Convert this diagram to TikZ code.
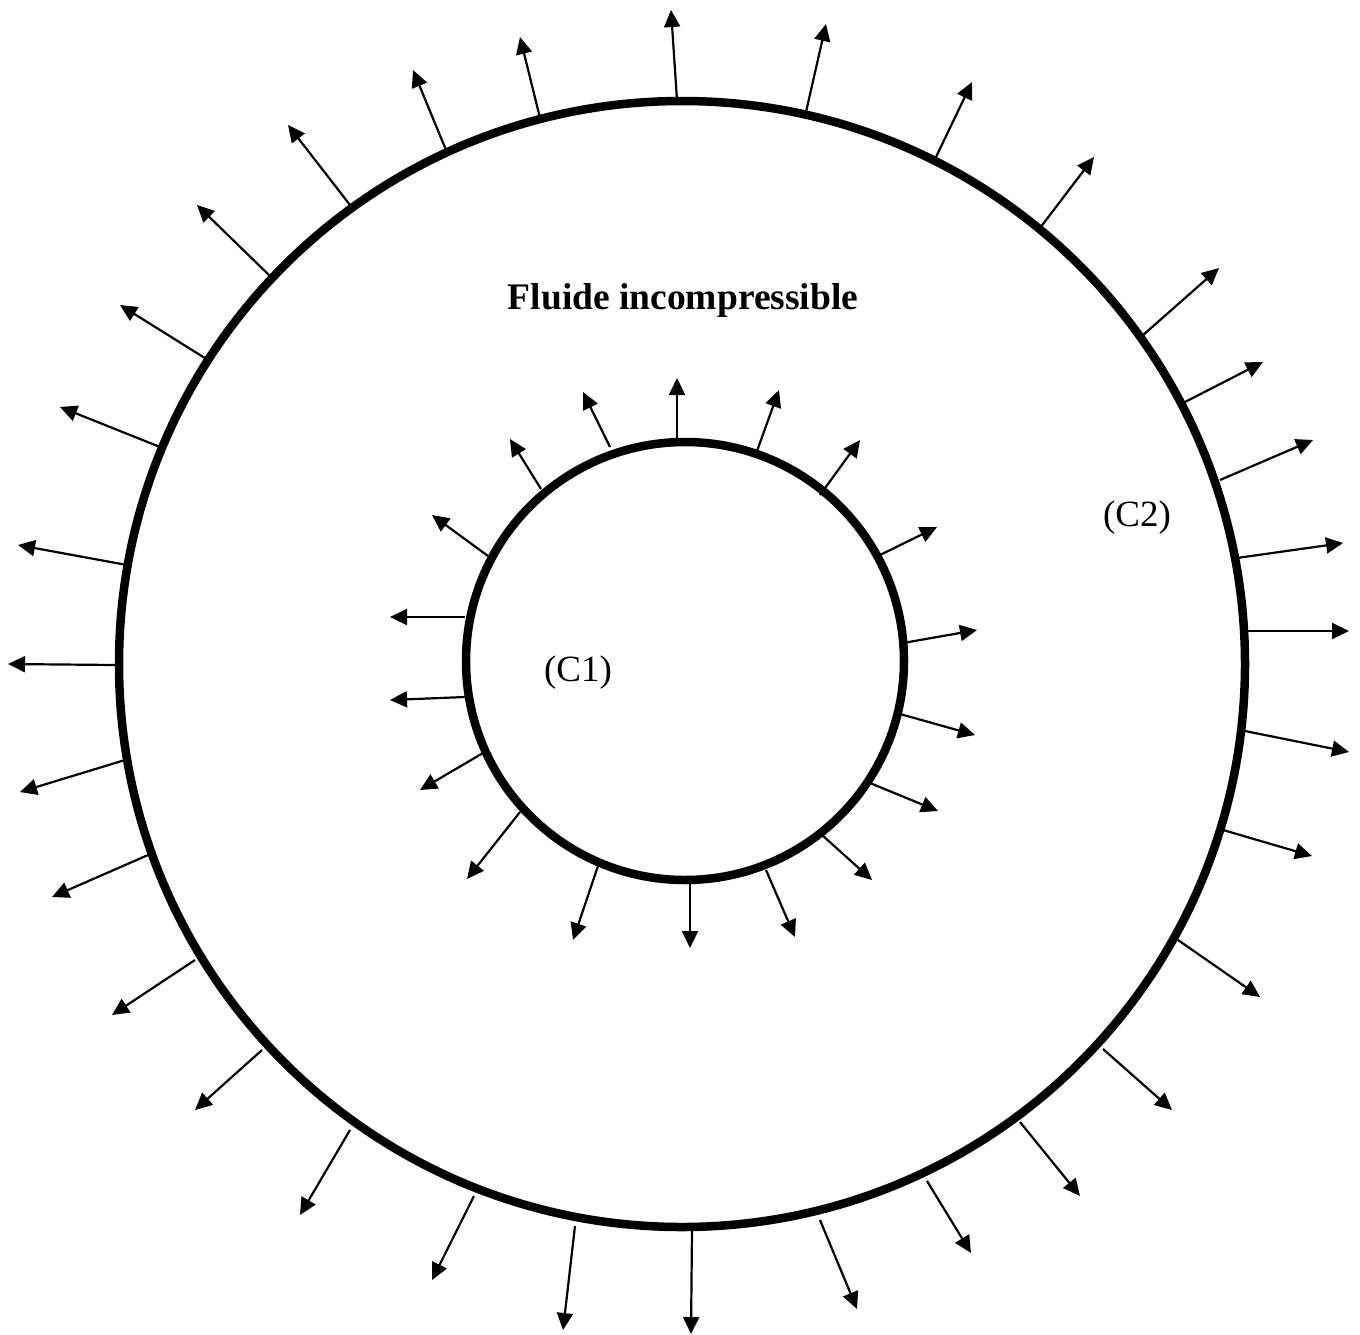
\documentclass[tikz,border=0pt]{standalone}
\usepackage{fontspec}
\setmainfont{Liberation Serif}
\usetikzlibrary{arrows.meta}
\begin{document}
\begin{tikzpicture}[x=1pt,y=-1pt,
  ring/.style={line width=8.5pt},
  vec/.style={line width=2.2pt,-{Triangle[length=17pt,width=16pt]}},
  lbl/.style={font=\fontsize{37}{40}\selectfont, inner sep=0pt}]
\useasboundingbox (0,0) rectangle (1360,1334);
\draw[ring] (682,664) circle (563);
\draw[ring] (685,661) circle (219);
\node[lbl,font=\fontsize{37.5}{40}\selectfont\bfseries] (title) at (683,300) {Fluide incompressible};
\node[lbl] (c1) at (578,673) {(C1)};
\node[lbl] (c2) at (1137,518) {(C2)};
% outer arrows
\foreach \a/\b/\c/\d in {
677/100/671/10, 806/112/826/24, 936/157/972/82, 1040/228/1094/157,
1142/336/1219/268, 1183/403/1263/362, 1220/480/1313/440, 1237/558/1343/543,
1246/631/1349/631, 1245/731/1349/752, 1223/830/1312/856, 1178/940/1260/997,
1103/1049/1172/1110, 1020/1122/1080/1196, 927/1181/971/1253, 820/1220/857/1309,
692/1230/691/1334, 575/1226/563/1330, 474/1196/432/1280, 350/1130/300/1215,
262/1050/195/1110, 195/960/112/1015, 148/855/52/897, 125/760/20/792,
115/665/8/664, 127/565/18/545, 160/447/60/407, 208/360/120/305,
270/276/197/205, 350/205/288/125, 446/150/413/70, 540/118/520/37}
  \draw[vec] (\a,\b) -- (\c,\d);
% inner arrows
\foreach \a/\b/\c/\d in {
677/440/677/378, 610/447/583/392, 541/489/510/439, 488/556/432/515,
465/617/390/617, 465/697/390/700, 483/753/420/790, 520/812/467/879,
598/866/573/940, 690/882/690/948, 766/870/795/937, 822/835/872/880,
870/783/938/811, 900/714/975/735, 903/643/977/630, 876/557/937/527,
820/495/860/440, 757/451/779/390}
  \draw[vec] (\a,\b) -- (\c,\d);
\end{tikzpicture}
\end{document}
